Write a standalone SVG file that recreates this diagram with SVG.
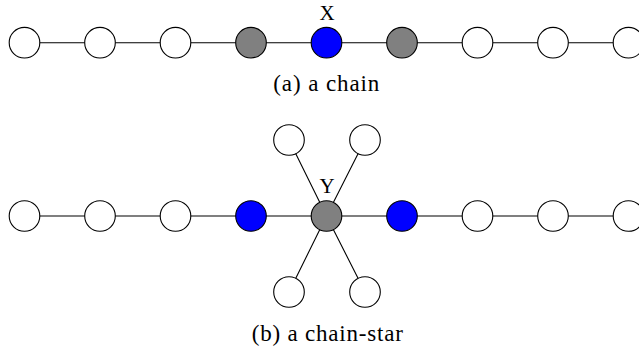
<svg xmlns="http://www.w3.org/2000/svg" width="639" height="356" viewBox="0 0 639 356">
<style>
.n{stroke:#000;stroke-width:1.1}
.w{fill:#fff}
.g{fill:#808080}
.b{fill:#0000ff}
.e{stroke:#000;stroke-width:1.1;fill:none}
.t{font-family:"Liberation Serif","DejaVu Serif",serif;font-size:21px;fill:#000;text-anchor:middle}
.c{font-size:23px}
</style>
<rect width="639" height="356" fill="#fff"/>
<g id="connectors">
<path class="e" d="M24.5 42.7H628.5"/>
<path class="e" d="M24.5 216H628.5"/>
<path class="e" d="M326.5 216L289 140M326.5 216L365 140M326.5 216L289 292M326.5 216L365 292"/>
</g>
<g id="a1"><circle class="n w" cx="24.5" cy="42.7" r="15.3"/></g>
<g id="a2"><circle class="n w" cx="100" cy="42.7" r="15.3"/></g>
<g id="a3"><circle class="n w" cx="175.5" cy="42.7" r="15.3"/></g>
<g id="a4"><circle class="n g" cx="251" cy="42.7" r="15.3"/></g>
<g id="aX"><circle class="n b" cx="326.5" cy="42.7" r="15.3"/><text class="t" x="327" y="19.5">X</text></g>
<g id="a6"><circle class="n g" cx="402" cy="42.7" r="15.3"/></g>
<g id="a7"><circle class="n w" cx="477.5" cy="42.7" r="15.3"/></g>
<g id="a8"><circle class="n w" cx="553" cy="42.7" r="15.3"/></g>
<g id="a9"><circle class="n w" cx="628.5" cy="42.7" r="15.3"/></g>
<g id="b1"><circle class="n w" cx="24.5" cy="216" r="15.3"/></g>
<g id="b2"><circle class="n w" cx="100" cy="216" r="15.3"/></g>
<g id="b3"><circle class="n w" cx="175.5" cy="216" r="15.3"/></g>
<g id="b4"><circle class="n b" cx="251" cy="216" r="15.3"/></g>
<g id="bY"><circle class="n g" cx="326.5" cy="216" r="15.3"/><text class="t" x="327" y="192.5">Y</text></g>
<g id="b6"><circle class="n b" cx="402" cy="216" r="15.3"/></g>
<g id="b7"><circle class="n w" cx="477.5" cy="216" r="15.3"/></g>
<g id="b8"><circle class="n w" cx="553" cy="216" r="15.3"/></g>
<g id="b9"><circle class="n w" cx="628.5" cy="216" r="15.3"/></g>
<g id="s1"><circle class="n w" cx="289" cy="140" r="15.3"/></g>
<g id="s2"><circle class="n w" cx="365" cy="140" r="15.3"/></g>
<g id="s3"><circle class="n w" cx="289" cy="292" r="15.3"/></g>
<g id="s4"><circle class="n w" cx="365" cy="292" r="15.3"/></g>
<text class="t c" x="326.3" y="91" textLength="106" lengthAdjust="spacing">(a) a chain</text>
<text class="t c" x="327.3" y="341" textLength="151" lengthAdjust="spacing">(b) a chain-star</text>
</svg>
